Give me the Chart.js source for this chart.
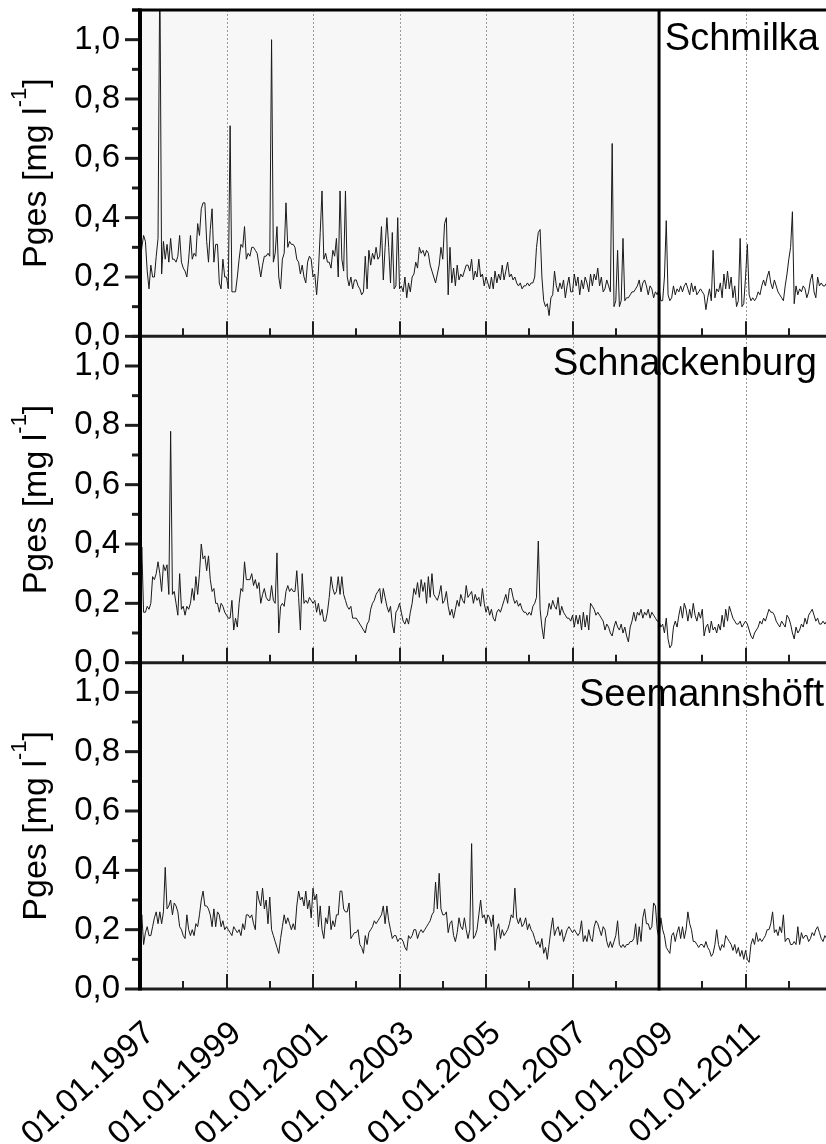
<!DOCTYPE html>
<html lang="de">
<head>
<meta charset="utf-8">
<title>Pges – Schmilka, Schnackenburg, Seemannshöft</title>
<script src="https://cdn.jsdelivr.net/npm/chart.js@4/dist/chart.umd.min.js"></script>
<style>
  html, body { margin: 0; padding: 0; background: #fff; }
  #wrap { width: 826px; height: 1144px; }
  canvas { display: block; }
</style>
</head>
<body>
<div id="wrap"><canvas id="chart" width="826" height="1144"></canvas></div>
<script>
// Total phosphorus (Pges, mg/l), semi-monthly samples starting 01.01.1997
const samplingStart = 1997;
const samplesPerYear = 24;

const stations = ['Schmilka', 'Schnackenburg', 'Seemannshöft'];

const schmilka = [
  /*1997*/ 0.23,0.30,0.34,0.32,0.22,0.16,0.24,0.20,0.20,0.27,0.33,1.25,0.21,0.32,0.26,0.31,0.25,0.33,0.26,0.26,0.25,0.27,0.34,0.25,
  /*1998*/ 0.23,0.22,0.20,0.26,0.34,0.26,0.28,0.27,0.38,0.34,0.43,0.45,0.45,0.32,0.25,0.36,0.43,0.25,0.31,0.31,0.18,0.16,0.26,0.20,
  /*1999*/ 0.20,0.16,0.71,0.15,0.15,0.15,0.20,0.26,0.31,0.30,0.37,0.26,0.28,0.27,0.30,0.30,0.29,0.28,0.24,0.20,0.24,0.27,0.27,0.28,
  /*2000*/ 0.27,1.00,0.25,0.28,0.37,0.20,0.16,0.26,0.28,0.45,0.30,0.32,0.31,0.31,0.30,0.26,0.25,0.21,0.24,0.20,0.18,0.25,0.27,0.26,
  /*2001*/ 0.20,0.21,0.14,0.22,0.35,0.49,0.26,0.28,0.25,0.25,0.23,0.29,0.27,0.33,0.20,0.49,0.26,0.22,0.49,0.20,0.17,0.20,0.16,0.19,
  /*2002*/ 0.19,0.17,0.16,0.14,0.15,0.27,0.16,0.29,0.24,0.28,0.26,0.30,0.26,0.27,0.37,0.19,0.30,0.40,0.30,0.18,0.35,0.16,0.17,0.40,
  /*2003*/ 0.16,0.17,0.15,0.20,0.13,0.18,0.15,0.20,0.21,0.25,0.23,0.30,0.28,0.29,0.27,0.29,0.28,0.24,0.22,0.20,0.18,0.21,0.24,0.30,
  /*2004*/ 0.26,0.38,0.40,0.14,0.30,0.18,0.23,0.17,0.24,0.19,0.21,0.20,0.22,0.24,0.24,0.22,0.26,0.19,0.22,0.20,0.26,0.20,0.21,0.17,
  /*2005*/ 0.20,0.18,0.16,0.20,0.16,0.22,0.18,0.21,0.19,0.24,0.19,0.22,0.25,0.20,0.21,0.19,0.20,0.18,0.17,0.18,0.16,0.17,0.17,0.18,
  /*2006*/ 0.17,0.18,0.18,0.20,0.30,0.35,0.36,0.20,0.12,0.10,0.11,0.07,0.13,0.14,0.22,0.17,0.15,0.18,0.16,0.19,0.13,0.17,0.20,0.15,
  /*2007*/ 0.15,0.21,0.17,0.20,0.14,0.19,0.16,0.20,0.18,0.15,0.21,0.17,0.21,0.19,0.23,0.17,0.20,0.15,0.16,0.19,0.17,0.15,0.65,0.10,
  /*2008*/ 0.12,0.29,0.10,0.12,0.33,0.12,0.13,0.13,0.14,0.15,0.15,0.16,0.17,0.19,0.15,0.18,0.19,0.17,0.14,0.17,0.16,0.13,0.15,0.14,
  /*2009*/ 0.16,0.12,0.12,0.20,0.39,0.14,0.12,0.13,0.17,0.14,0.16,0.15,0.17,0.15,0.17,0.18,0.16,0.14,0.18,0.15,0.17,0.14,0.15,0.16,
  /*2010*/ 0.15,0.14,0.09,0.13,0.16,0.12,0.29,0.13,0.16,0.15,0.18,0.13,0.21,0.16,0.22,0.16,0.20,0.13,0.17,0.10,0.12,0.33,0.10,0.11,
  /*2011*/ 0.20,0.31,0.14,0.12,0.13,0.12,0.13,0.15,0.14,0.17,0.19,0.17,0.20,0.22,0.18,0.16,0.19,0.17,0.15,0.14,0.13,0.12,0.17,0.21,
  /*2012*/ 0.26,0.30,0.42,0.11,0.17,0.14,0.16,0.15,0.17,0.16,0.13,0.15,0.19,0.21,0.15,0.13,0.20,0.17,0.18,0.17,0.17,0.18
];

const schnackenburg = [
  /*1997*/ 0.18,0.39,0.17,0.17,0.19,0.18,0.20,0.29,0.28,0.30,0.34,0.30,0.24,0.33,0.31,0.33,0.23,0.78,0.23,0.24,0.20,0.16,0.30,0.18,
  /*1998*/ 0.19,0.16,0.19,0.18,0.20,0.25,0.21,0.29,0.23,0.30,0.40,0.35,0.36,0.31,0.36,0.28,0.24,0.25,0.20,0.20,0.17,0.20,0.19,0.17,
  /*1999*/ 0.16,0.15,0.15,0.21,0.11,0.15,0.12,0.20,0.25,0.24,0.34,0.28,0.28,0.28,0.30,0.26,0.28,0.25,0.27,0.20,0.23,0.25,0.22,0.21,
  /*2000*/ 0.21,0.26,0.21,0.20,0.37,0.10,0.19,0.20,0.19,0.24,0.26,0.24,0.25,0.24,0.24,0.31,0.22,0.11,0.30,0.20,0.21,0.20,0.22,0.21,
  /*2001*/ 0.20,0.21,0.17,0.20,0.16,0.18,0.14,0.14,0.17,0.22,0.29,0.25,0.23,0.24,0.29,0.23,0.29,0.23,0.21,0.19,0.18,0.19,0.15,0.15,
  /*2002*/ 0.15,0.14,0.13,0.12,0.11,0.10,0.13,0.14,0.18,0.20,0.21,0.23,0.24,0.25,0.20,0.25,0.22,0.19,0.17,0.19,0.13,0.10,0.17,0.18,
  /*2003*/ 0.20,0.17,0.14,0.13,0.15,0.13,0.17,0.20,0.25,0.23,0.27,0.22,0.28,0.24,0.27,0.20,0.29,0.22,0.30,0.23,0.22,0.21,0.23,0.26,
  /*2004*/ 0.20,0.21,0.24,0.19,0.16,0.18,0.15,0.18,0.21,0.19,0.23,0.21,0.20,0.26,0.22,0.23,0.24,0.20,0.23,0.21,0.22,0.19,0.25,0.20,
  /*2005*/ 0.17,0.19,0.16,0.18,0.15,0.14,0.17,0.18,0.17,0.19,0.21,0.23,0.20,0.25,0.25,0.22,0.20,0.21,0.19,0.20,0.18,0.17,0.17,0.16,
  /*2006*/ 0.17,0.16,0.19,0.20,0.22,0.41,0.18,0.12,0.08,0.15,0.16,0.20,0.18,0.21,0.19,0.18,0.22,0.16,0.19,0.17,0.16,0.15,0.15,0.14,
  /*2007*/ 0.16,0.12,0.16,0.13,0.16,0.11,0.17,0.12,0.16,0.11,0.20,0.19,0.18,0.16,0.17,0.16,0.15,0.14,0.11,0.13,0.12,0.10,0.09,0.12,
  /*2008*/ 0.14,0.12,0.11,0.13,0.10,0.12,0.09,0.07,0.12,0.14,0.17,0.14,0.17,0.16,0.18,0.15,0.17,0.16,0.18,0.15,0.17,0.16,0.15,0.14,
  /*2009*/ 0.14,0.12,0.13,0.10,0.15,0.08,0.05,0.06,0.12,0.14,0.12,0.16,0.19,0.15,0.20,0.18,0.14,0.18,0.15,0.20,0.16,0.14,0.17,0.15,
  /*2010*/ 0.18,0.09,0.12,0.13,0.10,0.14,0.11,0.12,0.10,0.13,0.11,0.16,0.12,0.18,0.14,0.19,0.17,0.15,0.14,0.13,0.13,0.14,0.12,0.13,
  /*2011*/ 0.14,0.13,0.11,0.09,0.08,0.10,0.11,0.12,0.14,0.13,0.15,0.14,0.16,0.18,0.17,0.17,0.16,0.14,0.13,0.12,0.14,0.13,0.12,0.16,
  /*2012*/ 0.15,0.13,0.10,0.08,0.12,0.10,0.11,0.13,0.12,0.15,0.13,0.16,0.17,0.18,0.16,0.14,0.15,0.13,0.13,0.14,0.13,0.14
];

const seemannshoeft = [
  /*1997*/ 0.16,0.25,0.15,0.19,0.21,0.18,0.18,0.21,0.24,0.26,0.22,0.26,0.22,0.26,0.41,0.27,0.28,0.30,0.25,0.29,0.28,0.26,0.21,0.20,
  /*1998*/ 0.18,0.17,0.25,0.20,0.18,0.20,0.18,0.22,0.21,0.25,0.30,0.33,0.28,0.28,0.27,0.25,0.21,0.27,0.21,0.26,0.25,0.21,0.23,0.20,
  /*1999*/ 0.21,0.20,0.19,0.18,0.21,0.20,0.19,0.20,0.18,0.22,0.20,0.25,0.25,0.24,0.25,0.22,0.20,0.33,0.30,0.28,0.34,0.27,0.30,0.22,
  /*2000*/ 0.31,0.20,0.18,0.16,0.14,0.12,0.17,0.21,0.25,0.22,0.24,0.22,0.20,0.22,0.20,0.28,0.33,0.30,0.31,0.28,0.33,0.27,0.30,0.24,
  /*2001*/ 0.34,0.30,0.32,0.21,0.28,0.20,0.17,0.24,0.22,0.28,0.20,0.23,0.21,0.25,0.25,0.33,0.33,0.27,0.26,0.26,0.29,0.17,0.18,0.19,
  /*2002*/ 0.19,0.20,0.15,0.14,0.12,0.18,0.15,0.19,0.20,0.21,0.23,0.22,0.23,0.24,0.25,0.28,0.22,0.28,0.23,0.20,0.17,0.18,0.18,0.16,
  /*2003*/ 0.17,0.17,0.16,0.14,0.13,0.18,0.17,0.18,0.20,0.20,0.17,0.19,0.20,0.19,0.20,0.21,0.22,0.23,0.25,0.26,0.36,0.27,0.39,0.27,
  /*2004*/ 0.25,0.25,0.26,0.19,0.22,0.23,0.18,0.16,0.19,0.24,0.21,0.20,0.24,0.20,0.17,0.20,0.49,0.17,0.18,0.20,0.25,0.30,0.24,0.25,
  /*2005*/ 0.22,0.25,0.24,0.21,0.25,0.13,0.20,0.22,0.17,0.20,0.18,0.19,0.20,0.22,0.25,0.24,0.34,0.24,0.22,0.24,0.21,0.22,0.24,0.20,
  /*2006*/ 0.22,0.20,0.19,0.17,0.15,0.16,0.14,0.17,0.12,0.14,0.10,0.15,0.20,0.24,0.18,0.20,0.21,0.18,0.20,0.16,0.18,0.20,0.21,0.20,
  /*2007*/ 0.19,0.20,0.19,0.18,0.19,0.23,0.16,0.18,0.16,0.20,0.17,0.16,0.21,0.23,0.22,0.20,0.18,0.21,0.20,0.16,0.14,0.16,0.14,0.16,
  /*2008*/ 0.18,0.23,0.15,0.14,0.15,0.14,0.15,0.15,0.16,0.16,0.17,0.22,0.15,0.21,0.16,0.24,0.27,0.22,0.22,0.20,0.21,0.29,0.28,0.20,
  /*2009*/ 0.17,0.24,0.20,0.18,0.14,0.13,0.12,0.18,0.19,0.16,0.19,0.21,0.17,0.21,0.17,0.20,0.26,0.22,0.20,0.16,0.16,0.15,0.14,0.15,
  /*2010*/ 0.15,0.14,0.16,0.14,0.13,0.11,0.12,0.15,0.20,0.15,0.13,0.15,0.14,0.18,0.17,0.16,0.15,0.13,0.15,0.12,0.14,0.11,0.13,0.10,
  /*2011*/ 0.13,0.10,0.09,0.15,0.17,0.15,0.19,0.16,0.17,0.16,0.17,0.18,0.20,0.20,0.22,0.26,0.19,0.20,0.18,0.21,0.19,0.25,0.16,0.17,
  /*2012*/ 0.17,0.15,0.15,0.16,0.15,0.21,0.15,0.19,0.17,0.18,0.18,0.16,0.17,0.19,0.18,0.20,0.21,0.19,0.17,0.16,0.18,0.17
];

// sampling times as decimal years
const sampleTimes = schmilka.map((_, i) => samplingStart + i / samplesPerYear);

// axis ranges and tick labels
const xMin = 1997, xMax = 2012.86;
const yMin = 0, yMax = 1.1;
const yTickLabels = ['0,0', '0,2', '0,4', '0,6', '0,8', '1,0'];
const xTickLabelYears = [1997, 1999, 2001, 2003, 2005, 2007, 2009, 2011];
const dottedYears = [1999, 2001, 2003, 2005, 2007, 2011];
const shadeFrom = 1997, shadeTo = 2009;
const titleMain = 'Pges [mg l', titleSup = '-1', titleEnd = ']';

// placement of the station names inside each panel (px from right edge / panel top)
const nameInset = [7, 9, 2];
const nameDrop = [40, 39, 43];

const FONT = '"Liberation Sans", Arial, Helvetica, sans-serif';
Chart.defaults.font.family = FONT;
Chart.defaults.color = '#000';

// panel axes, top to bottom
const panelAxes = ['yTop', 'yMid', 'yBot'];

function yAxis() {
  return {
    type: 'linear',
    position: 'left',
    stack: 'panels',
    stackWeight: 1,
    min: yMin,
    max: yMax,
    grid: { display: false, drawTicks: false },
    border: { display: false },
    ticks: {
      stepSize: 0.1,
      autoSkip: false,
      padding: 20,
      font: { size: 33 },
      color: '#000',
      callback: (v) => {
        const t = Math.round(v * 10);
        return (t % 2 === 0 && t <= 10) ? yTickLabels[t / 2] : '';
      }
    },
    afterFit: (s) => { s.width = 140; s.paddingTop = 0; s.paddingBottom = 0; }
  };
}

const panelDecor = {
  id: 'panelDecor',
  beforeDatasetsDraw(chart) {
    const { ctx, chartArea: area, scales } = chart;
    const xs = scales.x;
    const xa = xs.getPixelForValue(shadeFrom), xb = xs.getPixelForValue(shadeTo);
    ctx.save();
    ctx.fillStyle = '#f7f7f7';
    panelAxes.forEach((id) => {
      const ys = scales[id];
      ctx.fillRect(xa, ys.top, xb - xa, ys.bottom - ys.top);
    });
    ctx.strokeStyle = '#9a9a9a';
    ctx.lineWidth = 1;
    ctx.setLineDash([2, 2]);
    dottedYears.forEach((yr) => {
      const px = Math.round(xs.getPixelForValue(yr)) + 0.5;
      ctx.beginPath();
      ctx.moveTo(px, area.top);
      ctx.lineTo(px, area.bottom);
      ctx.stroke();
    });
    ctx.restore();
  },
  afterDatasetsDraw(chart) {
    const { ctx, chartArea: area, scales } = chart;
    const xs = scales.x;
    const seg = (x1, y1, x2, y2) => { ctx.beginPath(); ctx.moveTo(x1, y1); ctx.lineTo(x2, y2); ctx.stroke(); };
    ctx.save();
    ctx.setLineDash([]);
    ctx.strokeStyle = '#1e1e1e';
    ctx.fillStyle = '#000';

    panelAxes.forEach((id, p) => {
      const ys = scales[id];
      // bottom axis line of the panel
      ctx.lineWidth = 3;
      seg(area.left, ys.bottom, area.right, ys.bottom);
      // year ticks pointing inward
      ctx.lineWidth = 2;
      for (let yr = xMin + 1; yr <= Math.floor(xMax); yr++) {
        const px = Math.round(xs.getPixelForValue(yr));
        seg(px, ys.bottom, px, ys.bottom - (yr % 2 ? 15 : 8));
      }
      // value ticks pointing outward
      ctx.lineWidth = 3;
      for (let t = 0; t <= 11; t++) {
        const py = ys.getPixelForValue(t / 10);
        seg(area.left - (t % 2 ? 8 : 15), py, area.left, py);
      }
      // axis title with superscript
      const cy = (ys.top + ys.bottom) / 2;
      ctx.font = '34px ' + FONT;
      const w1 = ctx.measureText(titleMain).width;
      const w3 = ctx.measureText(titleEnd).width;
      ctx.font = '22px ' + FONT;
      const w2 = ctx.measureText(titleSup).width;
      const total = w1 + w2 + w3;
      ctx.save();
      ctx.translate(46, cy);
      ctx.rotate(-Math.PI / 2);
      ctx.textAlign = 'left';
      ctx.textBaseline = 'alphabetic';
      let pos = -total / 2;
      ctx.font = '34px ' + FONT;
      ctx.fillText(titleMain, pos, 0);
      pos += w1;
      ctx.font = '22px ' + FONT;
      ctx.fillText(titleSup, pos, -20);
      pos += w2;
      ctx.font = '34px ' + FONT;
      ctx.fillText(titleEnd, pos, 0);
      ctx.restore();
      // station name
      ctx.font = '38px ' + FONT;
      ctx.textAlign = 'right';
      ctx.textBaseline = 'alphabetic';
      ctx.fillText(stations[p], area.right - nameInset[p], ys.top + nameDrop[p]);
    });

    // frame: top edge, left axis, end of the shaded period
    ctx.strokeStyle = '#000';
    ctx.lineWidth = 3;
    seg(area.left - 8, area.top, area.right, area.top);
    const x09 = xs.getPixelForValue(shadeTo);
    seg(x09, area.top, x09, area.bottom + 1.5);
    ctx.lineWidth = 4;
    seg(area.left, area.top - 1.5, area.left, area.bottom + 1.5);
    ctx.restore();
  }
};

function lineDataset(label, data, axis) {
  return {
    label, data, yAxisID: axis,
    borderColor: '#1a1a1a', borderWidth: 1,
    pointRadius: 0, pointHoverRadius: 0,
    tension: 0, fill: false
  };
}

new Chart(document.getElementById('chart'), {
  type: 'line',
  data: {
    labels: sampleTimes,
    datasets: [
      lineDataset(stations[0], schmilka, 'yTop'),
      lineDataset(stations[1], schnackenburg, 'yMid'),
      lineDataset(stations[2], seemannshoeft, 'yBot')
    ]
  },
  options: {
    responsive: false,
    animation: false,
    devicePixelRatio: 1,
    layout: { padding: { top: 10, left: 0, right: 0, bottom: 0 } },
    plugins: { legend: { display: false }, tooltip: { enabled: false } },
    scales: {
      x: {
        type: 'linear',
        position: 'bottom',
        min: xMin,
        max: xMax,
        grid: { display: false, drawTicks: false },
        border: { display: false },
        ticks: {
          stepSize: 1,
          autoSkip: false,
          includeBounds: false,
          minRotation: 42,
          maxRotation: 42,
          padding: 25,
          labelOffset: 10,
          font: { size: 33 },
          color: '#000',
          callback: (v) => xTickLabelYears.includes(v) ? '01.01.' + v : ''
        },
        afterFit: (s) => { s.height = 155; s.paddingLeft = 0; s.paddingRight = 0; }
      },
      // stacked left axes: the last one listed is placed on top
      yBot: yAxis(),
      yMid: yAxis(),
      yTop: yAxis()
    }
  },
  plugins: [panelDecor]
});
</script>
</body>
</html>
